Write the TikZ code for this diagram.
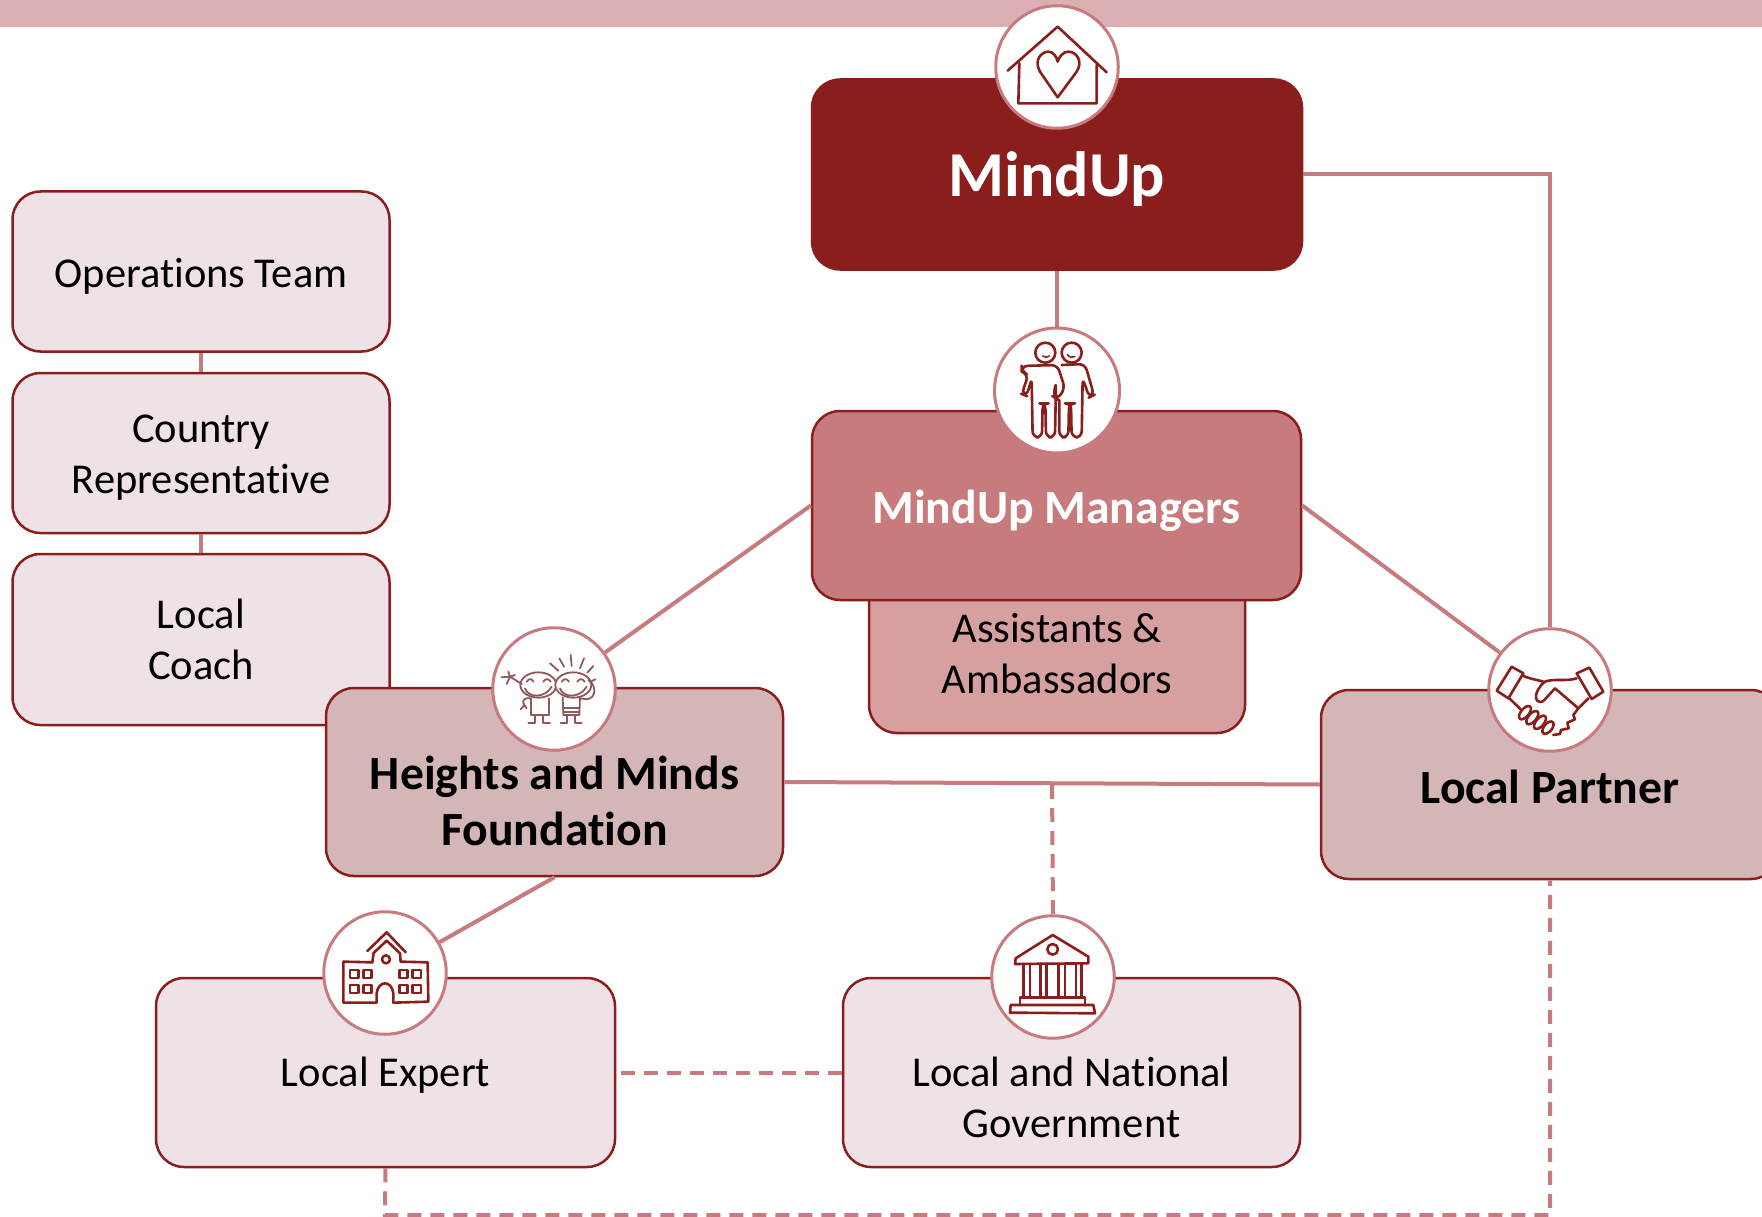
\documentclass[tikz,border=0pt]{standalone}
\usepackage{fontspec}
\setmainfont[Ligatures=NoCommon]{Carlito}
\definecolor{dark}{HTML}{8A1E1C}
\definecolor{band}{HTML}{DBB0B3}
\definecolor{conn}{HTML}{C87B7E}
\definecolor{mgr}{HTML}{C77B7C}
\definecolor{asst}{HTML}{D6A0A0}
\definecolor{mid}{HTML}{D5B6B7}
\definecolor{pale}{HTML}{EEE2E7}
\definecolor{kid}{HTML}{8C5A5D}
\tikzset{
  box/.style={draw=dark,line width=2.5pt,rounded corners=28pt,inner sep=0pt,align=center,text=black},
  regfont/.style={font=\fontsize{42.5}{51}\selectfont},
  boldfont/.style={font=\fontsize{47.7}{56}\selectfont\bfseries},
  txt/.style={regfont,align=center,text=black,inner sep=0pt},
  btxt/.style={boldfont,align=center,text=black,inner sep=0pt},
  iconc/.style={circle,draw=conn,line width=3pt,fill=white,minimum size=122.5pt,inner sep=0pt},
  link/.style={draw=conn,line width=4pt},
  dlink/.style={draw=conn,line width=4pt,dash pattern=on 14pt off 9pt},
  ink/.style={draw=dark,line width=2.6pt,line join=round,line cap=round},
  kidink/.style={draw=kid,line width=1.8pt,line join=round,line cap=round},
  zoomframe/.style={shift={#1},x=.3333pt,y=-.3333pt}
}
\begin{document}
\begin{tikzpicture}[x=1pt,y=-1pt]
\clip (0,0) rectangle (1762,1217);
\fill[white] (0,0) rectangle (1762,1217);
\fill[band] (0,0) rectangle (1762,27);

% boxes
\node[box,fill=pale,minimum width=377pt,minimum height=160pt,regfont,text height=32pt,text depth=0pt] (ops) at (201,271.5) {Operations Team};
\node[box,fill=pale,minimum width=377pt,minimum height=160pt] (country) at (201,453) {};
\node[txt] (countrytext) at (201,457.5) {Country\\Representative};
\node[box,fill=pale,minimum width=377pt,minimum height=171pt,regfont] (coach) at (201,639.5) {Local\\Coach};
\draw[link] (ops.south) -- (country.north);
\draw[link] (country.south) -- (coach.north);

\node[box,fill=dark,minimum width=490pt,minimum height=190pt,font=\fontsize{64}{70}\selectfont\bfseries,text=white,text height=44pt,text depth=0pt] (mindup) at (1057,174.5) {MindUp};
\node[box,fill=asst,minimum width=376pt,minimum height=193pt] (asst) at (1057,636.5) {};
\node[txt] (assttext) at (1057,654) {Assistants \&\\Ambassadors};
\node[box,fill=mgr,minimum width=489pt,minimum height=189pt,boldfont,text=white,text height=35pt,text depth=0pt] (mgr) at (1056.5,505.5) {MindUp Managers};
\node[box,fill=mid,minimum width=457pt,minimum height=188pt] (heights) at (554.5,782) {};
\node[btxt] (heightstext) at (554.5,801) {Heights and Minds\\Foundation};
\node[box,fill=mid,minimum width=458pt,minimum height=189pt,boldfont,text height=37.4pt,text depth=0pt] (partner) at (1550,784.5) {Local Partner};
\node[box,fill=pale,minimum width=459pt,minimum height=189pt,regfont,text height=28pt,text depth=0pt] (expert) at (385.5,1072.5) {Local Expert};
\node[box,fill=pale,minimum width=457pt,minimum height=189pt] (gov) at (1071.5,1072.5) {};
\node[txt] (govtext) at (1071.5,1097.5) {Local and National\\Government};

% icon circles
\node[iconc] (housec) at (1057,67) {};
\node[iconc,minimum size=125pt] (peoplec) at (1057,390.5) {};
\node[iconc] (kidsc) at (554,689) {};
\node[iconc] (shakec) at (1550,690) {};
\node[iconc] (schoolc) at (385,973) {};
\node[iconc] (bankc) at (1053,977) {};

% connectors
\coordinate (dashtop) at (1052,785);
\coordinate (bottomturn) at (385,1215);
\draw[link] (mindup.east) -| (shakec.north);
\draw[link] (mindup.south) -- (peoplec.north);
\draw[link] (mgr.west) -- (kidsc);
\draw[link] (mgr.east) -- (shakec);
\draw[link] (heights.east) -- (partner.west);
\draw[link] (heights.south) -- (schoolc);
\draw[dlink] (dashtop) -- (bankc.north);
\draw[dlink] (gov.west) -- (expert.east);
\draw[dlink] (expert.south) -- (bottomturn) -| (partner.south);

% house
\begin{scope}[zoomframe={(960,0)}]
\draw[ink] (143,212) -- (293,80) -- (440,217);
\draw[ink] (178,190) -- (175,310) -- (410,310) -- (410,195);
\draw[ink] (293,292) -- (240,215) .. controls (220,180) and (245,155) .. (265,155) .. controls (280,155) and (290,170) .. (293,185) .. controls (297,170) and (310,155) .. (325,155) .. controls (350,155) and (370,185) .. (350,215) -- cycle;
\end{scope}

% people
\begin{scope}[zoomframe={(970,320)}]
\draw[ink,fill=white] (226,98) circle (30);
\draw[ink,fill=white] (305,98) circle (30);
\draw[ink,fill=white,rounded corners=6pt] (275,135) -- (345,132) -- (372,225) -- (358,232) -- (338,175) -- (335,352) -- (305,352) -- (303,250) -- (297,250) -- (295,352) -- (268,352) -- (268,240);
\draw[ink,fill=white,rounded corners=6pt] (155,138) -- (262,135) -- (285,205) -- (262,238) -- (250,230) -- (258,185) -- (255,352) -- (228,352) -- (226,250) -- (218,250) -- (216,352) -- (188,352) -- (185,175) -- (170,228) -- (155,222) -- (175,165) -- (155,155) -- cycle;
\draw[ink,line width=1.6pt] (218,108) .. controls (225,113) and (232,113) .. (238,108);
\draw[ink,line width=1.6pt] (292,104) .. controls (298,112) and (306,114) .. (314,110);
\end{scope}

% kids
\begin{scope}[zoomframe={(480,620)}]
\draw[kidink] (152,235) -- (152,285) -- (208,285) -- (208,235);
\draw[kidink] (165,285) -- (165,310) -- (145,310);
\draw[kidink] (190,285) -- (190,310) -- (210,310);
\draw[kidink] (248,232) -- (250,285) -- (298,285) -- (300,232);
\draw[kidink] (250,265) -- (298,265) (250,275) -- (298,275);
\draw[kidink] (262,285) -- (262,310) -- (242,310);
\draw[kidink] (285,285) -- (285,310) -- (305,310);
\draw[kidink,fill=white] (175,195) ellipse (54 and 38);
\draw[kidink,fill=white] (280,195) ellipse (54 and 38);
\draw[kidink] (135,205) .. controls (145,235) and (195,235) .. (215,200);
\draw[kidink] (240,205) .. controls (250,235) and (300,235) .. (320,200);
\draw[kidink] (140,185) .. controls (147,175) and (155,175) .. (160,185);
\draw[kidink] (190,185) .. controls (197,175) and (205,175) .. (212,185);
\draw[kidink] (245,185) .. controls (252,175) and (260,175) .. (267,185);
\draw[kidink] (292,185) .. controls (299,175) and (307,175) .. (314,185);
\draw[kidink] (125,192) -- (90,170) (90,170) -- (85,155) (90,170) -- (65,172) (90,170) -- (80,192) (90,170) -- (105,165);
\draw[kidink] (150,235) .. controls (130,232) and (125,245) .. (133,255) -- (122,268) (133,255) -- (140,265);
\draw[kidink] (325,180) .. controls (350,195) and (350,235) .. (320,238) -- (300,235);
\draw[kidink] (210,130) -- (235,152) (238,115) -- (252,140) (272,105) -- (275,138) (312,115) -- (300,145) (340,138) -- (322,158) (346,178) -- (330,186);
\end{scope}

% handshake
\begin{scope}[zoomframe={(1460,620)}]
\draw[ink] (155,140) -- (190,160) -- (145,235) -- (110,212) -- cycle;
\draw[ink] (350,160) -- (388,143) -- (430,215) -- (395,237) -- cycle;
\draw[ink] (190,168) .. controls (215,178) and (235,180) .. (250,185);
\draw[ink] (350,175) .. controls (320,185) and (280,175) .. (255,185) .. controls (240,195) and (225,220) .. (228,235) .. controls (232,250) and (248,248) .. (255,238) -- (285,205) -- (355,265);
\draw[ink] (385,235) -- (355,265) -- (340,285) -- (345,298) -- (322,308) -- (326,325) -- (303,330) -- (300,342) -- (280,345);
\draw[ink] (148,235) -- (182,268);
\draw[ink,rotate around={50:(195,278)}] (195,278) ellipse (24 and 12);
\draw[ink,rotate around={50:(217,293)}] (217,293) ellipse (24 and 12);
\draw[ink,rotate around={50:(240,307)}] (240,307) ellipse (24 and 12);
\draw[ink,rotate around={50:(264,323)}] (264,323) ellipse (22 and 12);
\end{scope}

% school
\begin{scope}[zoomframe={(310,900)}]
\draw[ink] (172,153) -- (230,97) -- (287,157);
\draw[ink] (190,165) -- (190,160) -- (230,122) -- (270,160) -- (272,185);
\draw[ink] (187,187) -- (100,185) -- (100,308) -- (200,308) -- (200,280) .. controls (205,240) and (245,240) .. (250,280) -- (250,308) -- (355,305) -- (353,187) -- (272,185);
\draw[ink] (187,187) -- (190,165);
\draw[ink] (228,178) circle (12);
\foreach \a/\b in {120/210,160/210,268/210,308/210,120/255,160/255,268/255,308/255}
  \draw[ink] (\a,\b) rectangle ++(25,24);
\end{scope}

% bank
\begin{scope}[zoomframe={(970,900)}]
\draw[ink] (135,192) -- (137,175) -- (248,105) -- (355,170) -- (355,190) -- cycle;
\draw[ink] (248,148) circle (16);
\foreach \a in {160,180,212,230,265,285,318,335}
  \draw[ink] (\a,192) -- (\a,292);
\draw[ink] (150,315) -- (150,292) -- (345,292) -- (345,315);
\draw[ink] (122,315) -- (370,315) -- (375,340) -- (120,338) -- cycle;
\end{scope}
\end{tikzpicture}
\end{document}
